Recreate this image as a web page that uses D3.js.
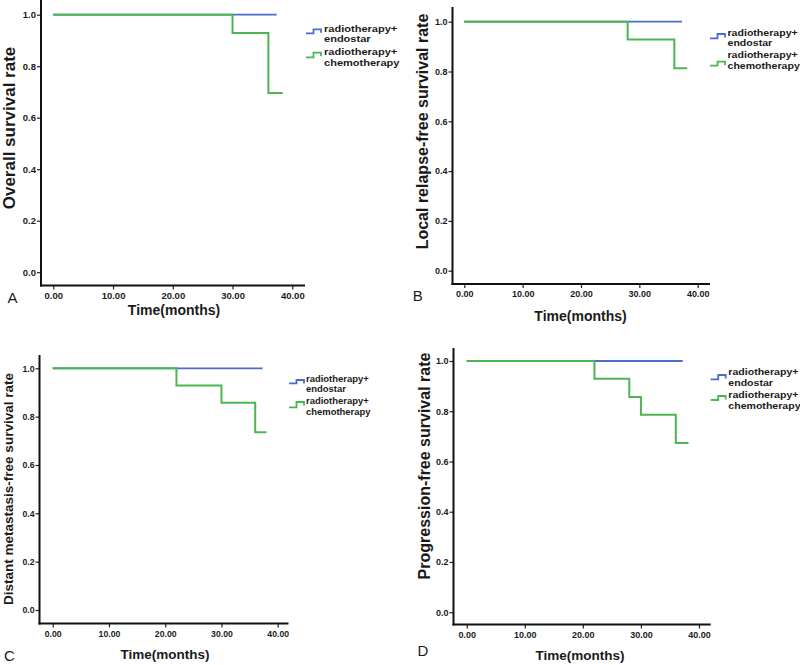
<!DOCTYPE html>
<html>
<head>
<meta charset="utf-8">
<script src="https://cdn.jsdelivr.net/npm/d3@7"></script>
<style>
  html, body { margin: 0; padding: 0; background: #fff; }
  svg { display: block; }
  text { font-family: "Liberation Sans", Arial, sans-serif; fill: #1a1a1a; }
</style>
</head>
<body>
<svg id="chart" width="800" height="665"></svg>
<script>
// ---------------- DATA ----------------
const xTickValues = [0, 10, 20, 30, 40];
const yTickValues = [0, 0.2, 0.4, 0.6, 0.8, 1.0];
const groupNames = ["radiotherapy+ endostar", "radiotherapy+ chemotherapy"];
const panelLetters = ["A", "B", "C", "D"];
const yTitles = ["Overall survival rate", "Local relapse-free survival rate",
                 "Distant metastasis-free survival rate", "Progression-free survival rate"];
const xTitle = "Time(months)";

// Kaplan–Meier step curves (time in months, survival proportion)
const osEndoTime = [0, 37.4];             const osEndoSurv = [1.0, 1.0];
const osChemoTime = [0, 30, 36, 38.4];    const osChemoSurv = [1.0, 0.929, 0.696, 0.696];

const lrfsEndoTime = [0, 37.3];           const lrfsEndoSurv = [1.0, 1.0];
const lrfsChemoTime = [0, 28, 36, 38.2];  const lrfsChemoSurv = [1.0, 0.929, 0.813, 0.813];

const dmfsEndoTime = [0, 37.3];           const dmfsEndoSurv = [1.0, 1.0];
const dmfsChemoTime = [0, 22, 30, 36, 38.0]; const dmfsChemoSurv = [1.0, 0.929, 0.857, 0.735, 0.735];

const pfsEndoTime = [0, 37.2];            const pfsEndoSurv = [1.0, 1.0];
const pfsChemoTime = [0, 22, 28, 30, 36, 38.2]; const pfsChemoSurv = [1.0, 0.929, 0.857, 0.786, 0.674, 0.674];

const panelSeries = [
  [[osEndoTime, osEndoSurv], [osChemoTime, osChemoSurv]],
  [[lrfsEndoTime, lrfsEndoSurv], [lrfsChemoTime, lrfsChemoSurv]],
  [[dmfsEndoTime, dmfsEndoSurv], [dmfsChemoTime, dmfsChemoSurv]],
  [[pfsEndoTime, pfsEndoSurv], [pfsChemoTime, pfsChemoSurv]]
];

// ---------------- LAYOUT / STYLE ----------------
const colors = ["#4a6ccc", "#4cb552"];
const layouts = [
  { axX: 41, axTop: 0, axBottom: 285.5, axRight: 305, x0: 53.3, x40: 292.3, y0: 272.2, y1: 14.7,
    tickFont: 9.5, yTitleFont: 17, yTitleX: 9, yTitleY: 128, xTitleFont: 14, xTitleX: 174, xTitleY: 310,
    letterX: 12.5, letterY: 297,
    leg: { symX: 306, textX: 324, font: 9.2, sx: 1.2, lines: [[28.6, 39.0], [52.2, 62.7]], sym: [[33.3, 29.3], [57.3, 52.7]] } },
  { axX: 452.5, axTop: 7, axBottom: 284, axRight: 710, x0: 464.3, x40: 697.7, y0: 270.7, y1: 21.7,
    tickFont: 9, yTitleFont: 16, yTitleX: 422, yTitleY: 131.5, xTitleFont: 14, xTitleX: 580.5, xTitleY: 316,
    letterX: 417.7, letterY: 295.5,
    leg: { symX: 710, textX: 727.5, font: 9.2, sx: 1.15, lines: [[32.6, 43.1], [54.8, 65.3]], sym: [[38.3, 34], [65.7, 61.7]] } },
  { axX: 39.5, axTop: 355, axBottom: 623.5, axRight: 288.5, x0: 52.7, x40: 277.7, y0: 610, y1: 368.3,
    tickFont: 8.7, yTitleFont: 13.5, yTitleX: 8.5, yTitleY: 489, xTitleFont: 13.5, xTitleX: 165, xTitleY: 654,
    letterX: 9.5, letterY: 655,
    leg: { symX: 289, textX: 306, font: 9, sx: 1.05, lines: [[378.8, 389.3], [401.2, 411.7]], sym: [[383.3, 380], [407.3, 402]] } },
  { axX: 453.5, axTop: 348, axBottom: 624.5, axRight: 710.7, x0: 466.7, x40: 699, y0: 612.2, y1: 361,
    tickFont: 9, yTitleFont: 16, yTitleX: 424, yTitleY: 466, xTitleFont: 13.5, xTitleX: 580, xTitleY: 655,
    letterX: 423, letterY: 650,
    leg: { symX: 710.7, textX: 728.3, font: 9.2, sx: 1.15, lines: [[372.0, 382.5], [395.2, 405.7]], sym: [[379.3, 375], [400, 396]] } }
];

const svg = d3.select("#chart");

layouts.forEach((L, pi) => {
  const g = svg.append("g");
  const x = d3.scaleLinear().domain([0, 40]).range([L.x0, L.x40]);
  const y = d3.scaleLinear().domain([0, 1]).range([L.y0, L.y1]);

  // x axis ticks & labels
  const xa = g.append("g").attr("transform", `translate(0,${L.axBottom})`)
    .call(d3.axisBottom(x).tickValues(xTickValues).tickFormat(d3.format(".2f")).tickSize(4).tickPadding(3));
  xa.select(".domain").remove();
  xa.selectAll("line").attr("stroke", "#222").attr("stroke-width", 1.2);
  xa.selectAll("text").style("font-size", L.tickFont + "px").style("font-weight", "bold").attr("fill", "#1a1a1a");

  // y axis ticks & labels
  const ya = g.append("g").attr("transform", `translate(${L.axX},0)`)
    .call(d3.axisLeft(y).tickValues(yTickValues).tickFormat(d3.format(".1f")).tickSize(4).tickPadding(1));
  ya.select(".domain").remove();
  ya.selectAll("line").attr("stroke", "#222").attr("stroke-width", 1.2);
  ya.selectAll("text").style("font-size", L.tickFont + "px").style("font-weight", "bold").attr("fill", "#1a1a1a");

  // axis frame lines
  g.append("line").attr("x1", L.axX).attr("x2", L.axX).attr("y1", L.axTop).attr("y2", L.axBottom + 1)
    .attr("stroke", "#111").attr("stroke-width", 2);
  g.append("line").attr("x1", L.axX - 1).attr("x2", L.axRight).attr("y1", L.axBottom).attr("y2", L.axBottom)
    .attr("stroke", "#111").attr("stroke-width", 2);

  // curves
  const line = d3.line().x(d => x(d[0])).y(d => y(d[1])).curve(d3.curveStepAfter);
  panelSeries[pi].forEach((s, si) => {
    const pts = s[0].map((t, i) => [t, s[1][i]]);
    g.append("path").attr("d", line(pts)).attr("fill", "none")
      .attr("stroke", colors[si]).attr("stroke-width", si === 0 ? 1.8 : 2);
  });

  // titles
  g.append("text").attr("x", L.xTitleX).attr("y", L.xTitleY).attr("text-anchor", "middle")
    .attr("dominant-baseline", "central").style("font-size", L.xTitleFont + "px").style("font-weight", "bold")
    .text(xTitle);
  g.append("text").attr("transform", `translate(${L.yTitleX},${L.yTitleY}) rotate(-90)`)
    .attr("text-anchor", "middle").attr("dominant-baseline", "central")
    .style("font-size", L.yTitleFont + "px").style("font-weight", "bold").text(yTitles[pi]);
  g.append("text").attr("x", L.letterX).attr("y", L.letterY).attr("text-anchor", "middle")
    .attr("dominant-baseline", "central").style("font-size", "15px").text(panelLetters[pi]);

  // legend
  groupNames.forEach((name, gi) => {
    const [lo, hi] = L.leg.sym[gi];
    const sx = L.leg.symX;
    g.append("path")
      .attr("d", `M${sx},${lo} H${sx + 7.5} V${hi} H${sx + 15} V${hi + 3.5}`)
      .attr("fill", "none").attr("stroke", colors[gi]).attr("stroke-width", 1.8);
    name.split(" ").forEach((part, li) => {
      g.append("text")
        .attr("transform", `translate(${L.leg.textX},${L.leg.lines[gi][li]}) scale(${L.leg.sx},1)`)
        .attr("dominant-baseline", "central").style("font-size", L.leg.font + "px")
        .style("font-weight", "bold").text(part);
    });
  });
});
</script>
</body>
</html>
